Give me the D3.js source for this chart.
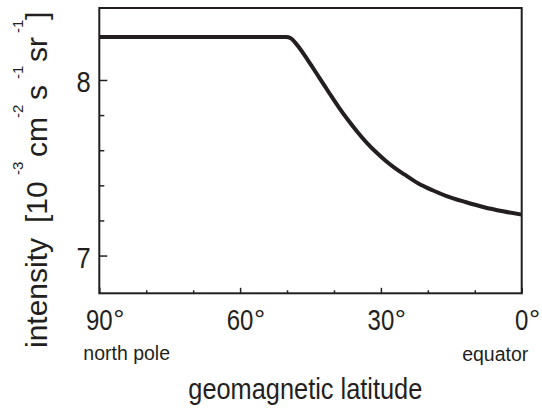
<!DOCTYPE html>
<html>
<head>
<meta charset="utf-8">
<script src="https://cdn.jsdelivr.net/npm/d3@7"></script>
<style>
  html, body { margin: 0; padding: 0; background: #fff; }
  svg { display: block; }
</style>
</head>
<body>
<svg id="chart" width="542" height="410"></svg>
<script>
// Cosmic-ray intensity versus geomagnetic latitude
const latitudes = [90, 50.2, 49.2, 48.3, 46.5, 45, 43, 41, 39, 37, 35, 33, 31, 29, 27, 25, 22, 19, 16, 12, 8, 4, 0];
const intensity = [8.245, 8.245, 8.238, 8.214, 8.150, 8.090, 8.008, 7.926, 7.846, 7.772, 7.704, 7.642, 7.588, 7.540, 7.498, 7.462, 7.410, 7.372, 7.339, 7.305, 7.275, 7.252, 7.233];

const xMajorTicks = [90, 60, 30, 0];
const xMinorTicks = [80, 70, 50, 40, 20, 10];
const yMajorTicks = [7, 8];
const yMinorTicks = [7.2, 7.4, 7.6, 7.8];

const xEndLabels = ["north pole", "equator"];
const xTitle = "geomagnetic latitude";
// y title pieces: [text, isSuperscript]
const yTitleParts = [
  ["intensity", false], ["[10", false], ["-3", true], ["cm", false], ["-2", true],
  ["s", false], ["-1", true], ["sr", false], ["-1", true], ["]", false]
];

const ink = "#231f20";
const font = "'Liberation Sans', Arial, sans-serif";

const svg = d3.select("#chart");
const plot = { left: 99.3, right: 521.7, top: 8, bottom: 293.3 };

const x = d3.scaleLinear().domain([90, 0]).range([plot.left, plot.right]);
const y = d3.scaleLinear().domain([6.785, 8.41]).range([plot.bottom, plot.top]);

// inward-pointing ticks
function tickGroup(axis, transform) {
  const g = svg.append("g").attr("transform", transform).call(axis);
  g.select(".domain").remove();
  g.selectAll(".tick line").attr("stroke", ink).attr("stroke-width", 1.5);
  g.selectAll(".tick text").remove();
  return g;
}
tickGroup(d3.axisBottom(x).tickValues(xMajorTicks).tickSize(-5.5).tickFormat(""), `translate(0,${plot.bottom})`);
tickGroup(d3.axisBottom(x).tickValues(xMinorTicks).tickSize(-3).tickFormat(""), `translate(0,${plot.bottom})`);
tickGroup(d3.axisLeft(y).tickValues(yMajorTicks).tickSize(-8).tickFormat(""), `translate(${plot.left},0)`);
tickGroup(d3.axisLeft(y).tickValues(yMinorTicks).tickSize(-5).tickFormat(""), `translate(${plot.left},0)`);

// curve
const data = latitudes.map((lat, i) => ({ lat, v: intensity[i] }));
svg.append("path")
  .datum(data)
  .attr("fill", "none")
  .attr("stroke", ink)
  .attr("stroke-width", 4)
  .attr("d", d3.line().x(d => x(d.lat)).y(d => y(d.v)).curve(d3.curveMonotoneX));

// frame
svg.append("rect")
  .attr("x", plot.left).attr("y", plot.top)
  .attr("width", plot.right - plot.left).attr("height", plot.bottom - plot.top)
  .attr("fill", "none").attr("stroke", ink).attr("stroke-width", 2);

// x tick labels: condensed digits centred on the tick, round degree sign trailing
const xSquash = 0.8;
const labelBase = plot.bottom + 36.7;
const xl = svg.append("g").attr("fill", ink).attr("font-family", font);
xMajorTicks.forEach(t => {
  const num = xl.append("text").attr("font-size", 30).text(t);
  const w = num.node().getComputedTextLength() * xSquash;
  const left = x(t) - w / 2;
  num.attr("transform", `translate(${left},${labelBase}) scale(${xSquash},1)`);
  xl.append("text").attr("font-size", 28)
    .attr("x", left + w + 0.5).attr("y", labelBase - 1.5)
    .text("°");
});

// y tick labels
const ySquash = 0.85;
svg.append("g").attr("fill", ink).attr("font-family", font).attr("font-size", 30)
  .selectAll("text").data(yMajorTicks).join("text")
  .attr("transform", d => `translate(${plot.left - 8.5},${y(d) + 12.5}) scale(${ySquash},1)`)
  .attr("text-anchor", "end")
  .text(d => d);

// pole / equator labels
svg.append("text").attr("fill", ink).attr("font-family", font).attr("font-size", 19.5)
  .attr("x", 83.3).attr("y", 360).text(xEndLabels[0]);
svg.append("text").attr("fill", ink).attr("font-family", font).attr("font-size", 19.5)
  .attr("x", 528.3).attr("y", 361).attr("text-anchor", "end").text(xEndLabels[1]);

// x title
svg.append("text").attr("fill", ink).attr("font-family", font).attr("font-size", 30)
  .attr("x", 188.3).attr("y", 399.3)
  .attr("textLength", 234).attr("lengthAdjust", "spacingAndGlyphs")
  .text(xTitle);

// y title, rotated, laid out piece by piece along the axis
const yOffsets = [0, 125, 173, 191, 230, 248, 269, 286, 315, 328];
const yt = svg.append("text").attr("fill", ink).attr("font-family", font)
  .attr("transform", "translate(47,348) rotate(-90)");
yTitleParts.forEach(([s, sup], i) => {
  yt.append("tspan")
    .attr("x", yOffsets[i])
    .attr("y", sup ? -24 : 0)
    .attr("font-size", sup ? 15 : 30)
    .text(s);
});
</script>
</body>
</html>
